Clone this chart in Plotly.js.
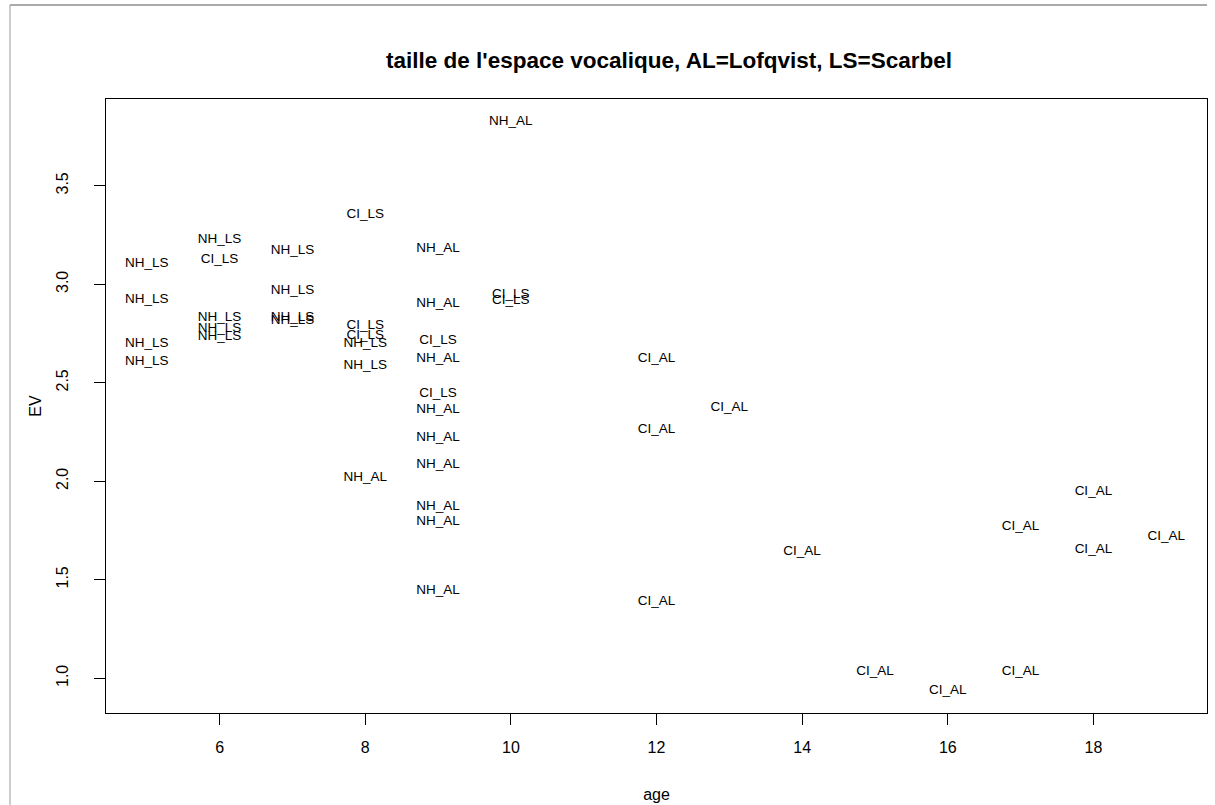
<!DOCTYPE html>
<html>
<head>
<meta charset="utf-8">
<script src="https://cdn.plot.ly/plotly-3.0.1.min.js"></script>
<style>html,body{margin:0;padding:0;background:#fff;}#chart{width:1215px;height:805px;}</style>
</head>
<body>
<div id="chart"></div>
<script>
// Data (age, EV) per group
const nhLsAge = [5, 5, 5, 5, 6, 6, 6, 6, 7, 7, 7, 7, 8, 8];
const nhLsEV  = [3.107, 2.921, 2.701, 2.607, 3.226, 2.831, 2.773, 2.733, 3.170, 2.970, 2.831, 2.816, 2.701, 2.585];

const ciLsAge = [6, 8, 8, 8, 9, 9, 10, 10];
const ciLsEV  = [3.124, 3.353, 2.789, 2.739, 2.712, 2.443, 2.946, 2.918];

const nhAlAge = [8, 9, 9, 9, 9, 9, 9, 9, 9, 9, 10];
const nhAlEV  = [2.018, 3.183, 2.902, 2.624, 2.362, 2.223, 2.082, 1.870, 1.794, 1.447, 3.825];

const ciAlAge = [12, 12, 12, 13, 14, 15, 16, 17, 17, 18, 18, 19];
const ciAlEV  = [2.625, 2.260, 1.388, 2.373, 1.645, 1.032, 0.939, 1.769, 1.032, 1.947, 1.654, 1.718];

const groupNames = ["NH_LS", "CI_LS", "NH_AL", "CI_AL"];
const xTicks = [6, 8, 10, 12, 14, 16, 18];
const yTicks = [1.0, 1.5, 2.0, 2.5, 3.0, 3.5];
const yTickText = ["1.0", "1.5", "2.0", "2.5", "3.0", "3.5"];

const FONT = "Liberation Sans, Arial, Helvetica, sans-serif";

const groups = [[nhLsAge, nhLsEV], [ciLsAge, ciLsEV], [nhAlAge, nhAlEV], [ciAlAge, ciAlEV]];
const traces = groups.map((g, i) => ({
  type: "scatter",
  mode: "text",
  x: g[0],
  y: g[1],
  text: g[0].map(() => groupNames[i]),
  textposition: "middle center",
  textfont: {family: FONT, size: 13.5, color: "#000"},
  hoverinfo: "x+y+text",
  showlegend: false
}));

// R-style 4% range extension computed from the data
const allX = [].concat(nhLsAge, ciLsAge, nhAlAge, ciAlAge);
const allY = [].concat(nhLsEV, ciLsEV, nhAlEV, ciAlEV);
function ext(a) { const mn = Math.min(...a), mx = Math.max(...a), d = (mx - mn) * 0.04; return [mn - d, mx + d]; }

const W = 1215, H = 805;
const layout = {
  width: W, height: H,
  paper_bgcolor: "#fff", plot_bgcolor: "#fff",
  margin: {l: 106, r: 8, t: 99, b: 92, pad: 0},
  title: {
    text: "<b>taille de l'espace vocalique, AL=Lofqvist, LS=Scarbel</b>",
    font: {family: FONT, size: 22.5, color: "#000"},
    x: 669 / W, xref: "container", xanchor: "center",
    y: 1 - 60 / H, yref: "container", yanchor: "middle"
  },
  xaxis: {
    range: ext(allX),
    tickvals: xTicks, ticktext: xTicks.map(String),
    ticks: "outside", ticklen: 11, tickwidth: 1, tickcolor: "#000",
    showline: true, linecolor: "#000", linewidth: 1, mirror: true,
    showgrid: false, zeroline: false,
    tickfont: {family: FONT, size: 16, color: "#000"},
    ticklabelstandoff: 9,
    title: {text: "age", font: {family: FONT, size: 16, color: "#000"}, standoff: 33}
  },
  yaxis: {
    range: ext(allY),
    tickvals: yTicks, ticktext: yTickText,
    tickangle: -90,
    ticks: "outside", ticklen: 11, tickwidth: 1, tickcolor: "#000",
    showline: true, linecolor: "#000", linewidth: 1, mirror: true,
    showgrid: false, zeroline: false,
    tickfont: {family: FONT, size: 16, color: "#000"},
    ticklabelstandoff: 20,
    title: {text: "EV", font: {family: FONT, size: 16, color: "#000"}, standoff: 7}
  },
  shapes: [
    {type: "line", xref: "paper", yref: "paper", layer: "above",
     x0: (10 - 106) / (W - 106 - 8), x1: 1, y0: 1 + (99 - 5) / (H - 99 - 92), y1: 1 + (99 - 5) / (H - 99 - 92),
     line: {color: "#555", width: 1}},
    {type: "line", xref: "paper", yref: "paper", layer: "above",
     x0: (10 - 106) / (W - 106 - 8), x1: (10 - 106) / (W - 106 - 8), y0: 1 + (99 - 5) / (H - 99 - 92), y1: -92 / (H - 99 - 92),
     line: {color: "#999", width: 1}}
  ]
};

Plotly.newPlot("chart", traces, layout, {displayModeBar: false, staticPlot: true});
</script>
</body>
</html>
